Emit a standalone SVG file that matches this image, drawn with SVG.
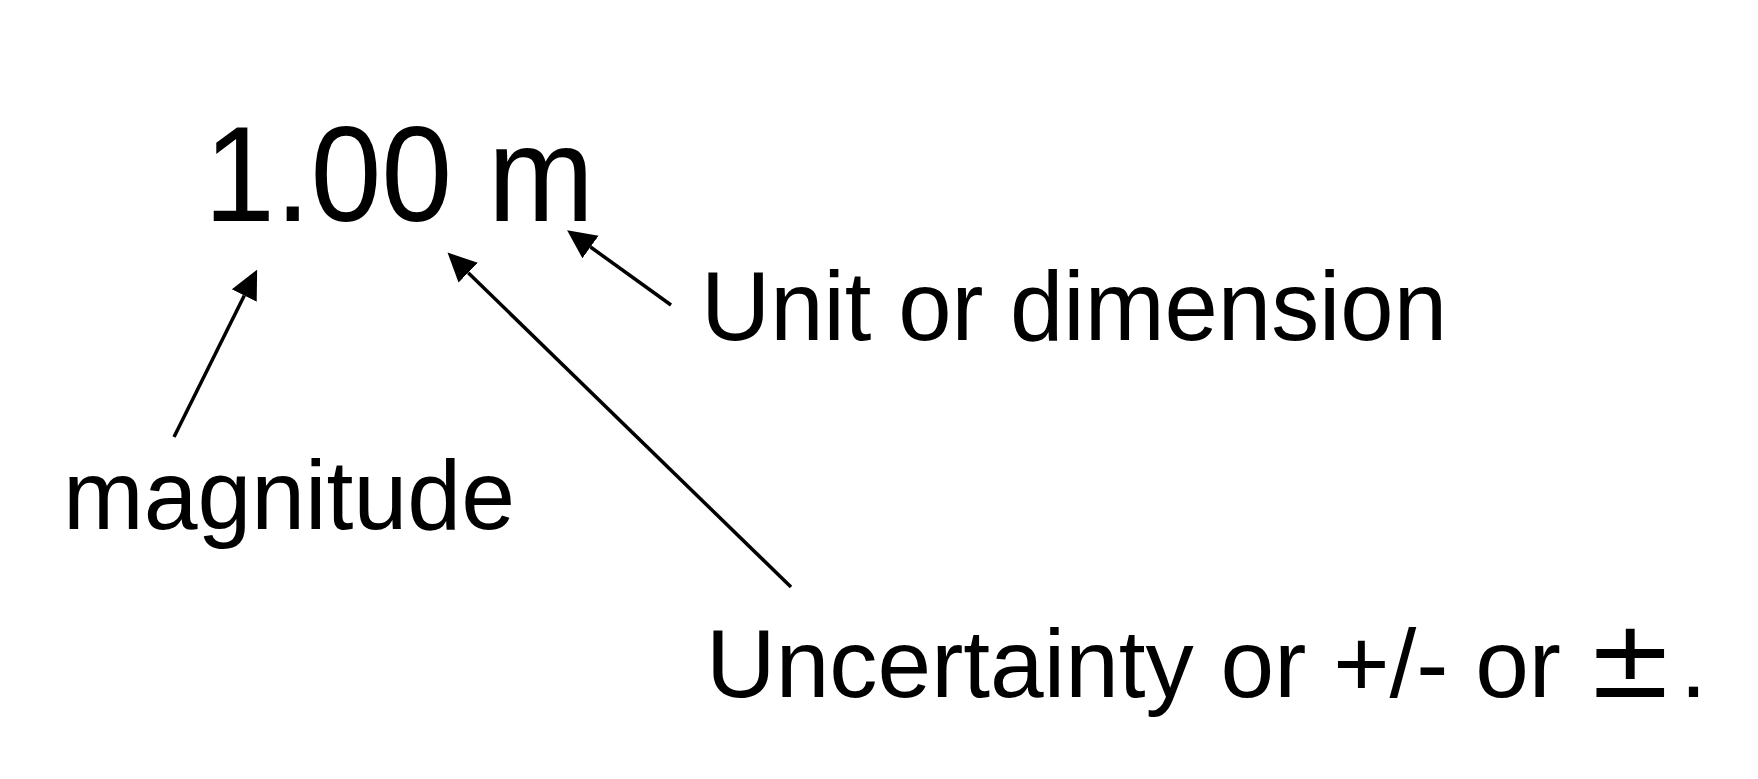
<svg xmlns="http://www.w3.org/2000/svg" width="1758" height="779" viewBox="0 0 1758 779">
  <style>
    .t { font-family: "Liberation Sans", Arial, sans-serif; fill: #000; }
    .c { stroke: #000; stroke-width: 3.5; fill: none; }
  </style>
  <defs>
    <marker id="head" markerUnits="userSpaceOnUse" markerWidth="30" markerHeight="30" refX="0" refY="12" viewBox="0 0 26 24" orient="auto">
      <path d="M0,0 L25,12 L0,24 Z" fill="#000"/>
    </marker>
  </defs>
  <rect width="1758" height="779" fill="#fff"/>
  <g id="value">
    <text class="t" x="204" y="221" font-size="135" textLength="390" lengthAdjust="spacingAndGlyphs">1.00 m</text>
  </g>
  <g id="unit">
    <text class="t" x="701" y="340" font-size="99" textLength="746" lengthAdjust="spacingAndGlyphs">Unit or dimension</text>
  </g>
  <g id="magnitude">
    <text class="t" x="63" y="529" font-size="99" textLength="452" lengthAdjust="spacingAndGlyphs">magnitude</text>
  </g>
  <g id="uncertainty">
    <text class="t" x="706" y="697" font-size="97" textLength="855" lengthAdjust="spacingAndGlyphs">Uncertainty or +/- or</text>
    <text x="1585" y="697" font-family="'DejaVu Sans', sans-serif" font-size="108">±</text>
    <text class="t" x="1680" y="697" font-size="97">.</text>
  </g>
  <g id="connectors">
    <line class="c" x1="174" y1="437" x2="244.3" y2="295.5" marker-end="url(#head)"/>
    <line class="c" x1="791" y1="587" x2="468.2" y2="272.7" marker-end="url(#head)"/>
    <line class="c" x1="671" y1="305" x2="590.5" y2="247" marker-end="url(#head)"/>
  </g>
</svg>
